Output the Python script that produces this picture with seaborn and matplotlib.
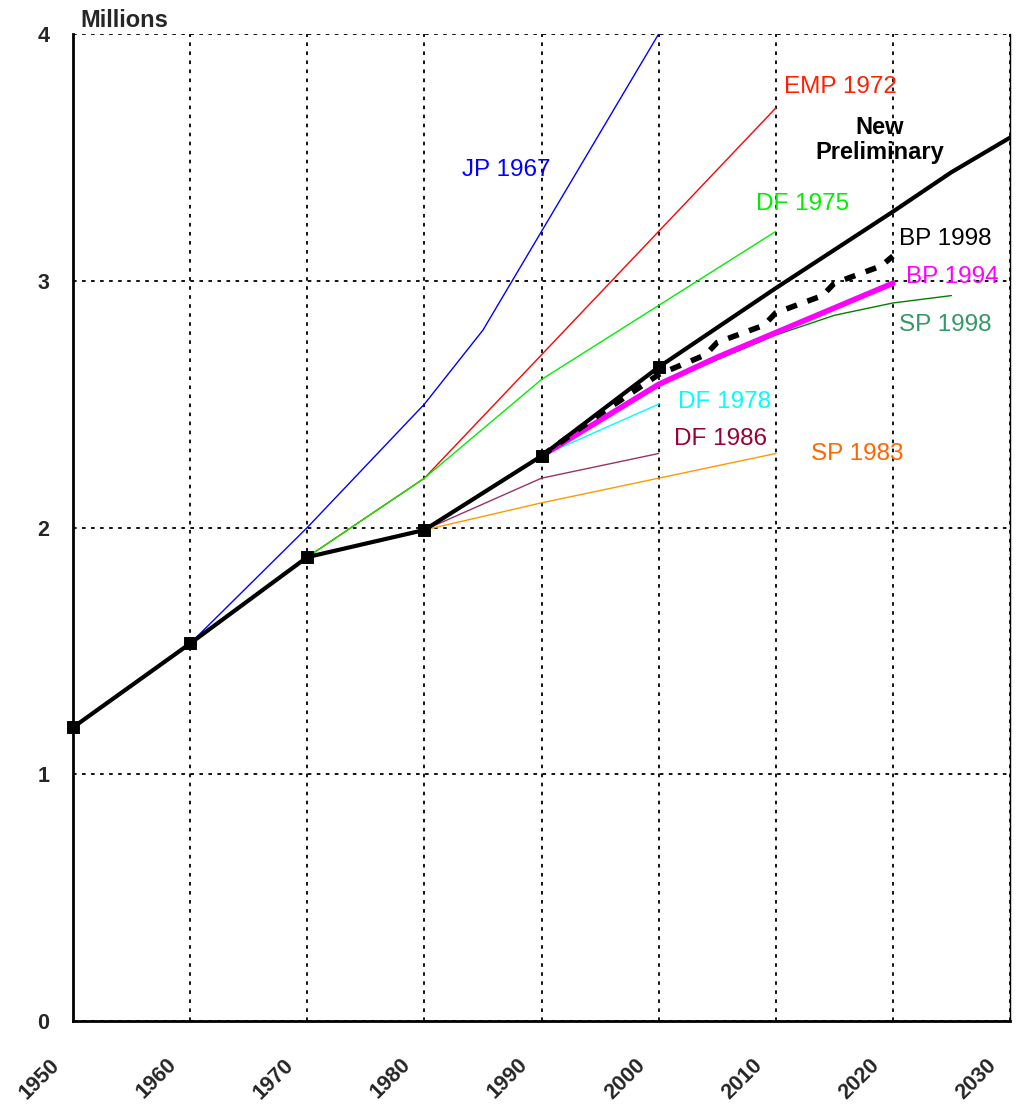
import matplotlib
matplotlib.use('Agg')
import matplotlib.pyplot as plt
import matplotlib.transforms as mtransforms
import seaborn as sns

# data (millions)
new_years = [1950, 1960, 1970, 1980, 1990, 2000, 2010, 2020, 2025, 2030]
new_vals = [1.19, 1.53, 1.88, 1.99, 2.29, 2.65, 2.97, 3.28, 3.44, 3.58]
hist_years = [1950, 1960, 1970, 1980, 1990, 2000]
hist_vals = [1.19, 1.53, 1.88, 1.99, 2.29, 2.65]

jp67_years = [1960, 1970, 1980, 1985, 1990, 2000]
jp67_vals = [1.53, 2.00, 2.50, 2.80, 3.20, 4.00]

emp72_years = [1970, 1980, 1990, 2000, 2010]
emp72_vals = [1.88, 2.20, 2.70, 3.20, 3.70]

df75_years = [1970, 1980, 1990, 2000, 2010]
df75_vals = [1.88, 2.20, 2.60, 2.90, 3.20]

df78_years = [1990, 2000]
df78_vals = [2.29, 2.50]

df86_years = [1980, 1990, 2000]
df86_vals = [1.99, 2.20, 2.30]

sp83_years = [1980, 1990, 2000, 2010]
sp83_vals = [1.99, 2.10, 2.20, 2.30]

bp94_years = [1990, 2000, 2005, 2010, 2020]
bp94_vals = [2.29, 2.58, 2.69, 2.79, 2.99]

sp98_years = [1990, 2000, 2010, 2015, 2020, 2025]
sp98_vals = [2.29, 2.58, 2.78, 2.86, 2.91, 2.94]

bp98_years = [1990, 1995, 2000, 2004, 2005, 2009, 2010, 2014, 2015, 2019, 2020]
bp98_vals = [2.29, 2.46, 2.62, 2.70, 2.75, 2.82, 2.87, 2.94, 2.99, 3.06, 3.10]

sns.set_style('white')
plt.rcParams['font.family'] = ['Liberation Sans', 'DejaVu Sans']

fig = plt.figure(figsize=(10.17, 11.05), dpi=100)
ax = fig.add_axes([0.0718, 0.076, 0.9213, 0.8932])

# thin projection lines
sns.lineplot(x=jp67_years, y=jp67_vals, ax=ax, color='#0000ff', lw=1)
sns.lineplot(x=emp72_years, y=emp72_vals, ax=ax, color='#ff0000', lw=1)
sns.lineplot(x=df75_years, y=df75_vals, ax=ax, color='#00ee00', lw=1)
sns.lineplot(x=df78_years, y=df78_vals, ax=ax, color='#00ffff', lw=1)
sns.lineplot(x=df86_years, y=df86_vals, ax=ax, color='#993366', lw=1)
sns.lineplot(x=sp83_years, y=sp83_vals, ax=ax, color='#ff9900', lw=1)
sns.lineplot(x=sp98_years, y=sp98_vals, ax=ax, color='#008000', lw=1)
sns.lineplot(x=bp94_years, y=bp94_vals, ax=ax, color='#ff00ff', lw=4)
sns.lineplot(x=bp98_years, y=bp98_vals, ax=ax, color='black', lw=4,
             dashes=False, linestyle=(0, (2, 2)))
sns.lineplot(x=new_years, y=new_vals, ax=ax, color='black', lw=3)
sns.scatterplot(x=hist_years, y=hist_vals, ax=ax, color='black', marker='s',
                s=70, edgecolor='black', zorder=5, clip_on=False)

ax.set_xlim(1950, 2030)
ax.set_ylim(0, 4)
ax.set_xticks(range(1950, 2031, 10))
ax.set_yticks([0, 1, 2, 3, 4])
ax.grid(True, color='black', linestyle=(0, (2, 3)), linewidth=1.3)
ax.set_axisbelow(True)
ax.set_xlabel('')
ax.set_ylabel('')

for side in ['left', 'bottom']:
    ax.spines[side].set_color('black')
    ax.spines[side].set_linewidth(2)
ax.spines['top'].set_visible(False)
ax.spines['right'].set_color('black')
ax.spines['right'].set_linewidth(1)

ax.tick_params(axis='both', length=0)
ax.tick_params(axis='y', pad=17)
ax.tick_params(axis='x', pad=24)
for lab in ax.get_yticklabels():
    lab.set_fontsize(15.5)
    lab.set_fontweight('bold')
shift = mtransforms.ScaledTranslation(-24 / 100, 0, fig.dpi_scale_trans)
for lab in ax.get_xticklabels():
    lab.set_fontsize(15.5)
    lab.set_fontweight('bold')
    lab.set_rotation(45)
    lab.set_ha('right')
    lab.set_va('top')
    lab.set_rotation_mode('anchor')
    lab.set_transform(lab.get_transform() + shift)

ax.text(1950.6, 4.03, 'Millions', fontsize=17, fontweight='bold', ha='left', va='baseline')

# series labels
lab_kw = dict(fontsize=17.5, ha='center', va='center')
ax.text(1987.0, 3.45, 'JP 1967', color='#0000ff', **lab_kw)
ax.text(2015.5, 3.785, 'EMP 1972', color='#ff2000', **lab_kw)
ax.text(2018.9, 3.57, 'New\nPreliminary', color='black', fontweight='bold',
        fontsize=17, ha='center', va='center', linespacing=1.15)
ax.text(2012.3, 3.31, 'DF 1975', color='#00ee00', **lab_kw)
ax.text(2024.5, 3.17, 'BP 1998', color='black', **lab_kw)
ax.text(2025.1, 3.015, 'BP 1994', color='#ff00ff', **lab_kw)
ax.text(2024.5, 2.82, 'SP 1998', color='#339966', **lab_kw)
ax.text(2005.6, 2.51, 'DF 1978', color='#00ffff', **lab_kw)
ax.text(2005.3, 2.36, 'DF 1986', color='#990033', **lab_kw)
ax.text(2017.0, 2.30, 'SP 1983', color='#ff6600', **lab_kw)

fig.savefig('out.png', dpi=100)
